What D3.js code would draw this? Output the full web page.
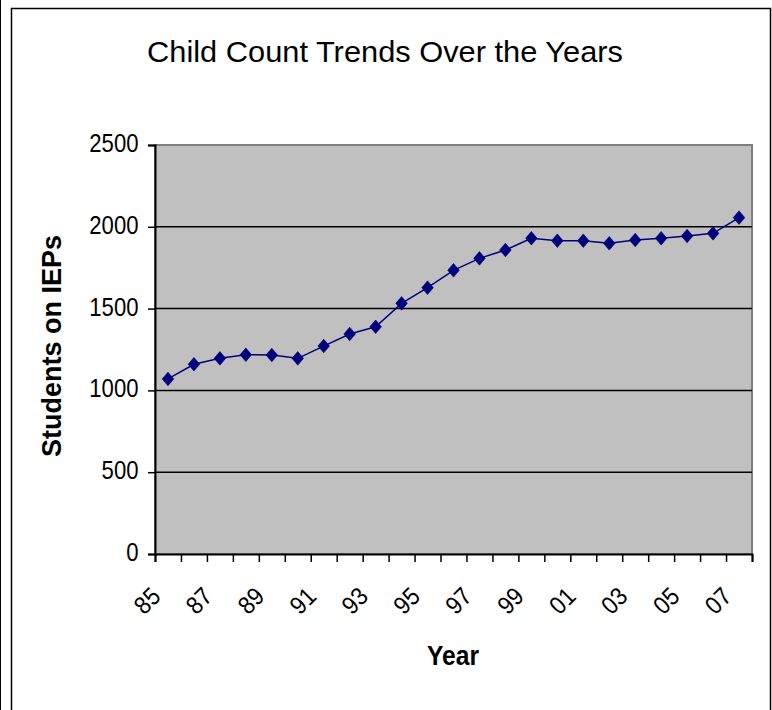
<!DOCTYPE html>
<html>
<head>
<meta charset="utf-8">
<script src="https://cdn.jsdelivr.net/npm/d3@7"></script>
<style>
  html, body { margin: 0; padding: 0; background: #fff; }
  svg { display: block; }
  text { font-family: Arial, "Liberation Sans", sans-serif; fill: #000; }
</style>
</head>
<body>
<script>
// Child count (students on IEPs) by school year
const years = ["85","86","87","88","89","90","91","92","93","94","95","96",
               "97","98","99","00","01","02","03","04","05","06","07"];
const students = [1070,1160,1196,1218,1216,1196,1271,1345,1389,1532,1628,1734,
                  1807,1858,1930,1915,1915,1899,1919,1930,1944,1960,2056];
const yTicks = [0, 500, 1000, 1500, 2000, 2500];
const labeledYears = ["85","87","89","91","93","95","97","99","01","03","05","07"];

const W = 772, H = 710;
const plot = { left: 155, right: 752, top: 145, bottom: 554 };

const svg = d3.select("body").append("svg")
  .attr("width", W).attr("height", H);

// chart frame
svg.append("line").attr("x1", 0.5).attr("x2", 0.5).attr("y1", 0).attr("y2", H)
  .attr("stroke", "#000").attr("stroke-width", 1);
svg.append("rect").attr("x", 11.5).attr("y", 8.5).attr("width", 759).attr("height", H + 20)
  .attr("fill", "none").attr("stroke", "#000").attr("stroke-width", 1.5);

const x = d3.scaleBand().domain(years).range([plot.left, plot.right]).padding(0);
const xEdge = d3.scaleLinear().domain([0, years.length]).range([plot.left, plot.right]);
const y = d3.scaleLinear().domain([0, 2500]).range([plot.bottom, plot.top]);

// plot area
svg.append("rect")
  .attr("x", plot.left).attr("y", plot.top)
  .attr("width", plot.right - plot.left).attr("height", plot.bottom - plot.top)
  .attr("fill", "#c0c0c0").attr("stroke", "#808080").attr("stroke-width", 2);

// horizontal gridlines
svg.append("g").selectAll("line")
  .data(yTicks.filter(v => v > 0 && v < 2500))
  .join("line")
  .attr("x1", plot.left).attr("x2", plot.right)
  .attr("y1", d => y(d)).attr("y2", d => y(d))
  .attr("stroke", "#000").attr("stroke-width", 1.5);

// y axis
const yAxis = svg.append("g")
  .attr("transform", `translate(${plot.left},0)`)
  .call(d3.axisLeft(y).tickValues(yTicks).tickSize(7).tickFormat(""));
yAxis.select(".domain").attr("stroke", "#000").attr("stroke-width", 2);
yAxis.selectAll(".tick line").attr("stroke", "#000").attr("stroke-width", 1.5);

svg.append("g").selectAll("text")
  .data(yTicks)
  .join("text")
  .attr("x", 138.5)
  .attr("y", d => y(d) + 7)
  .attr("text-anchor", "end")
  .attr("font-size", 25)
  .attr("textLength", d => String(d).length * 12.3)
  .attr("lengthAdjust", "spacingAndGlyphs")
  .text(d => d);

// x axis: tick marks sit on the category boundaries
const xAxis = svg.append("g")
  .attr("transform", `translate(0,${plot.bottom})`)
  .call(d3.axisBottom(xEdge).tickValues(d3.range(years.length + 1)).tickSize(8).tickFormat(""));
xAxis.select(".domain").attr("stroke", "#000").attr("stroke-width", 2);
xAxis.selectAll(".tick line").attr("stroke", "#000").attr("stroke-width", 1.5);

svg.append("g").selectAll("text")
  .data(labeledYears)
  .join("text")
  .attr("text-anchor", "end")
  .attr("font-size", 25)
  .attr("textLength", 25)
  .attr("lengthAdjust", "spacingAndGlyphs")
  .attr("transform", d => `translate(${x(d) + x.bandwidth() / 2 - 6},598) rotate(-45)`)
  .text(d => d);

// series line and diamond markers
const pts = years.map((yr, i) => ({ yr, v: students[i] }));
const cx = d => x(d.yr) + x.bandwidth() / 2;
const line = d3.line().x(cx).y(d => y(d.v));
svg.append("path").datum(pts)
  .attr("d", line).attr("fill", "none")
  .attr("stroke", "#000080").attr("stroke-width", 1.5);

const diamond = "M0,-6.8L5.8,0L0,6.8L-5.8,0Z";
svg.append("g").selectAll("path")
  .data(pts)
  .join("path")
  .attr("transform", d => `translate(${cx(d)},${y(d.v)})`)
  .attr("d", diamond)
  .attr("fill", "#000080")
  .attr("stroke", "#000060").attr("stroke-width", 0.6);

// titles
svg.append("text")
  .attr("x", 385).attr("y", 62)
  .attr("text-anchor", "middle")
  .attr("font-size", 30)
  .attr("textLength", 476).attr("lengthAdjust", "spacingAndGlyphs")
  .text("Child Count Trends Over the Years");

svg.append("text")
  .attr("transform", "translate(61,346) rotate(-90)")
  .attr("text-anchor", "middle")
  .attr("font-size", 27).attr("font-weight", "bold")
  .attr("textLength", 222).attr("lengthAdjust", "spacingAndGlyphs")
  .text("Students on IEPs");

svg.append("text")
  .attr("x", 453).attr("y", 665)
  .attr("text-anchor", "middle")
  .attr("font-size", 27).attr("font-weight", "bold")
  .attr("textLength", 52).attr("lengthAdjust", "spacingAndGlyphs")
  .text("Year");
</script>
</body>
</html>
